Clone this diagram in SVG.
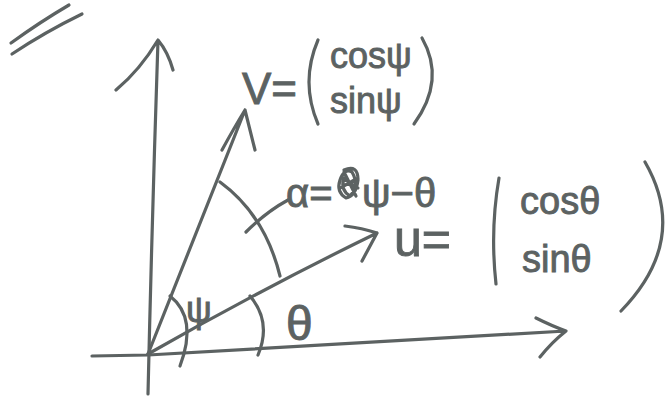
<svg xmlns="http://www.w3.org/2000/svg" width="671" height="396" viewBox="0 0 671 396">
<style>
.s{fill:none;stroke:#5c6262;stroke-width:3.2;stroke-linecap:round;stroke-linejoin:round}
.t{fill:#5c6262;stroke:#5c6262;stroke-width:0.9;font-family:"Liberation Sans","DejaVu Sans",sans-serif}
</style>
<rect width="671" height="396" fill="#ffffff"/>
<g id="mark"><path class="s" d="M11,43 Q40,22 69,5 M12,54 Q45,32 82,14"/></g>
<g id="connectors">
<path id="y-axis" class="s" d="M148,394 Q152,220 158,40 M116,90 Q140,70 158,40 Q168,52 173,70"/>
<path id="x-axis" class="s" d="M92,356 L148,355 Q360,342 566,331 M536,318 Q552,326 566,331 Q552,342 540,357"/>
<path id="v-vec" class="s" d="M148,354 Q195,235 245,110 M222,150 Q234,128 245,110 Q250,130 255,150"/>
<path id="u-vec" class="s" d="M148,354 Q260,290 377,233 M345,226 Q362,228 377,233 Q370,246 362,261"/>
<path id="arc-alpha" class="s" d="M220,182 Q265,215 280,276"/>
<path id="alpha-lead" class="s" d="M246,232 Q266,212 288,200"/>
<path id="arc-psi" class="s" d="M170,296 Q198,318 180,366"/>
<path id="arc-theta" class="s" d="M250,296 Q272,322 258,355"/>
</g>
<g id="v-label">
<text class="t" x="242" y="104" font-size="44">V=</text>
<path class="s" d="M318,40 Q300,82 318,124"/>
<text class="t" x="330" y="68" font-size="36">cosψ</text>
<text class="t" x="330" y="113" font-size="36">sinψ</text>
<path class="s" d="M422,38 Q446,80 414,124"/>
</g>
<g id="alpha-label">
<text class="t" x="286" y="207" font-size="40">α=</text>
<path class="s" d="M344,170 Q358,164 358,180 Q356,196 346,198 Q336,192 340,180 Q344,168 352,172 Q360,186 350,196 Q340,190 344,178 M342,178 L358,188 M340,188 L358,178 M344,172 L356,196" stroke-width="2.6"/>
<text class="t" x="362" y="207" font-size="40">ψ−θ</text>
</g>
<g id="u-label">
<text class="t" x="394" y="256" font-size="50">u=</text>
<path class="s" d="M499,178 Q490,230 496,284"/>
<text class="t" x="520" y="214" font-size="38">cosθ</text>
<text class="t" x="522" y="272" font-size="38">sinθ</text>
<path class="s" d="M645,162 Q690,240 621,311"/>
</g>
<g id="angle-labels">
<text class="t" x="186" y="322" font-size="36">ψ</text>
<text class="t" x="286" y="340" font-size="48">θ</text>
</g>
</svg>
